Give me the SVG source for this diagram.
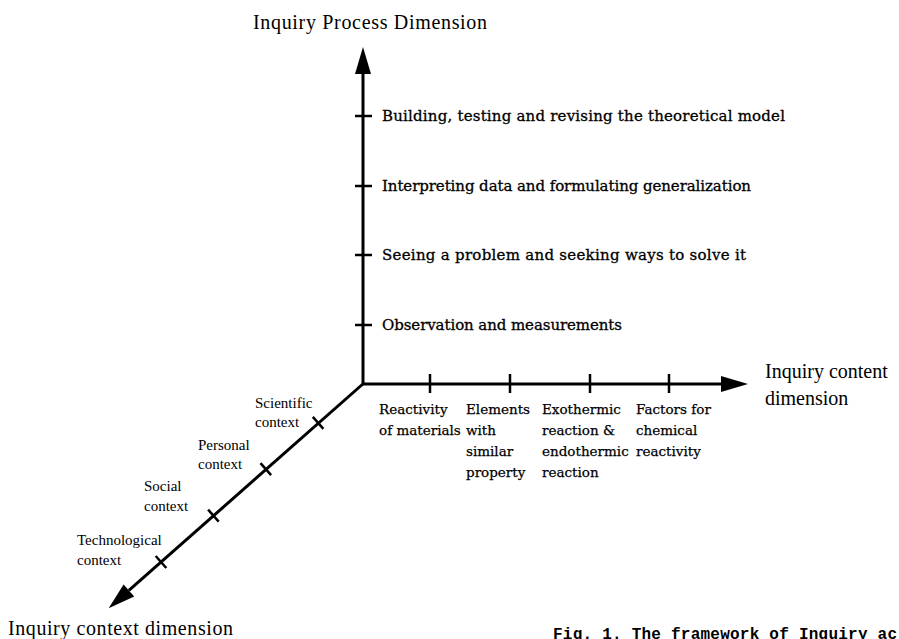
<svg xmlns="http://www.w3.org/2000/svg" width="899" height="639" viewBox="0 0 899 639">
<style>
.axis{stroke:#000;stroke-width:3;fill:none}
.tick{stroke:#000;stroke-width:2.5;fill:none}
.title{font-family:"Liberation Serif",serif;font-size:20px;fill:#000}
.proc{font-family:"DejaVu Serif","Liberation Serif",serif;font-size:15px;fill:#000;stroke:#000;stroke-width:0.3}
.lab{font-family:"DejaVu Serif","Liberation Serif",serif;font-size:13.5px;fill:#000;stroke:#000;stroke-width:0.25}
.ctx{font-family:"Liberation Serif",serif;font-size:15px;fill:#000}
.cap{font-family:"Liberation Mono",monospace;font-size:16px;font-weight:bold;fill:#000}
</style>
<defs>
<marker id="ah" markerUnits="userSpaceOnUse" markerWidth="30" markerHeight="18" refX="0" refY="8" orient="auto" overflow="visible">
<path d="M0,0 L27,8 L0,16 z" fill="#000"/>
</marker>
</defs>
<rect width="899" height="639" fill="#fff"/>
<g id="connectors">
<line class="axis" x1="363" y1="385" x2="363" y2="74" marker-end="url(#ah)"/>
<line class="axis" x1="362" y1="384" x2="721" y2="384" marker-end="url(#ah)"/>
<line class="axis" x1="364" y1="383" x2="128.9" y2="590.4" marker-end="url(#ah)"/>
<g id="ticks">
<line class="tick" x1="355" y1="116" x2="372" y2="116"/>
<line class="tick" x1="355" y1="186" x2="372" y2="186"/>
<line class="tick" x1="355" y1="255" x2="372" y2="255"/>
<line class="tick" x1="355" y1="325" x2="372" y2="325"/>
<line class="tick" x1="430" y1="374" x2="430" y2="393"/>
<line class="tick" x1="510" y1="374" x2="510" y2="393"/>
<line class="tick" x1="590" y1="374" x2="590" y2="393"/>
<line class="tick" x1="669" y1="374" x2="669" y2="393"/>
<line class="tick" x1="312.8" y1="416.8" x2="323.4" y2="428.8"/>
<line class="tick" x1="260.5" y1="463.2" x2="271.1" y2="475.2"/>
<line class="tick" x1="208.1" y1="509.6" x2="218.7" y2="521.6"/>
<line class="tick" x1="155.7" y1="556" x2="166.3" y2="568"/>
</g>
</g>
<g id="process-axis">
<text class="title" x="253" y="29" textLength="234">Inquiry Process Dimension</text>
<text class="proc" x="382" y="121" textLength="403">Building, testing and revising the theoretical model</text>
<text class="proc" x="382" y="191" textLength="369">Interpreting data and formulating generalization</text>
<text class="proc" x="382" y="260" textLength="364">Seeing a problem and seeking ways to solve it</text>
<text class="proc" x="382" y="330" textLength="240">Observation and measurements</text>
</g>
<g id="content-axis">
<text class="title" x="765" y="378">Inquiry content</text>
<text class="title" x="765" y="405">dimension</text>
<text class="lab" x="379" y="414">Reactivity</text>
<text class="lab" x="379" y="435">of materials</text>
<text class="lab" x="466" y="414">Elements</text>
<text class="lab" x="466" y="435">with</text>
<text class="lab" x="466" y="456">similar</text>
<text class="lab" x="466" y="477">property</text>
<text class="lab" x="542" y="414">Exothermic</text>
<text class="lab" x="542" y="435">reaction &amp;</text>
<text class="lab" x="542" y="456">endothermic</text>
<text class="lab" x="542" y="477">reaction</text>
<text class="lab" x="636" y="414">Factors for</text>
<text class="lab" x="636" y="435">chemical</text>
<text class="lab" x="636" y="456">reactivity</text>
</g>
<g id="context-axis">
<text class="ctx" x="255" y="408">Scientific</text>
<text class="ctx" x="255" y="427">context</text>
<text class="ctx" x="198" y="450">Personal</text>
<text class="ctx" x="198" y="469">context</text>
<text class="ctx" x="144" y="491">Social</text>
<text class="ctx" x="144" y="511">context</text>
<text class="ctx" x="77" y="545">Technological</text>
<text class="ctx" x="77" y="565">context</text>
<text class="title" x="8" y="635" textLength="225">Inquiry context dimension</text>
</g>
<g id="caption">
<text class="cap" x="553" y="639" textLength="344">Fig. 1. The framework of Inquiry ac</text>
</g>
</svg>
